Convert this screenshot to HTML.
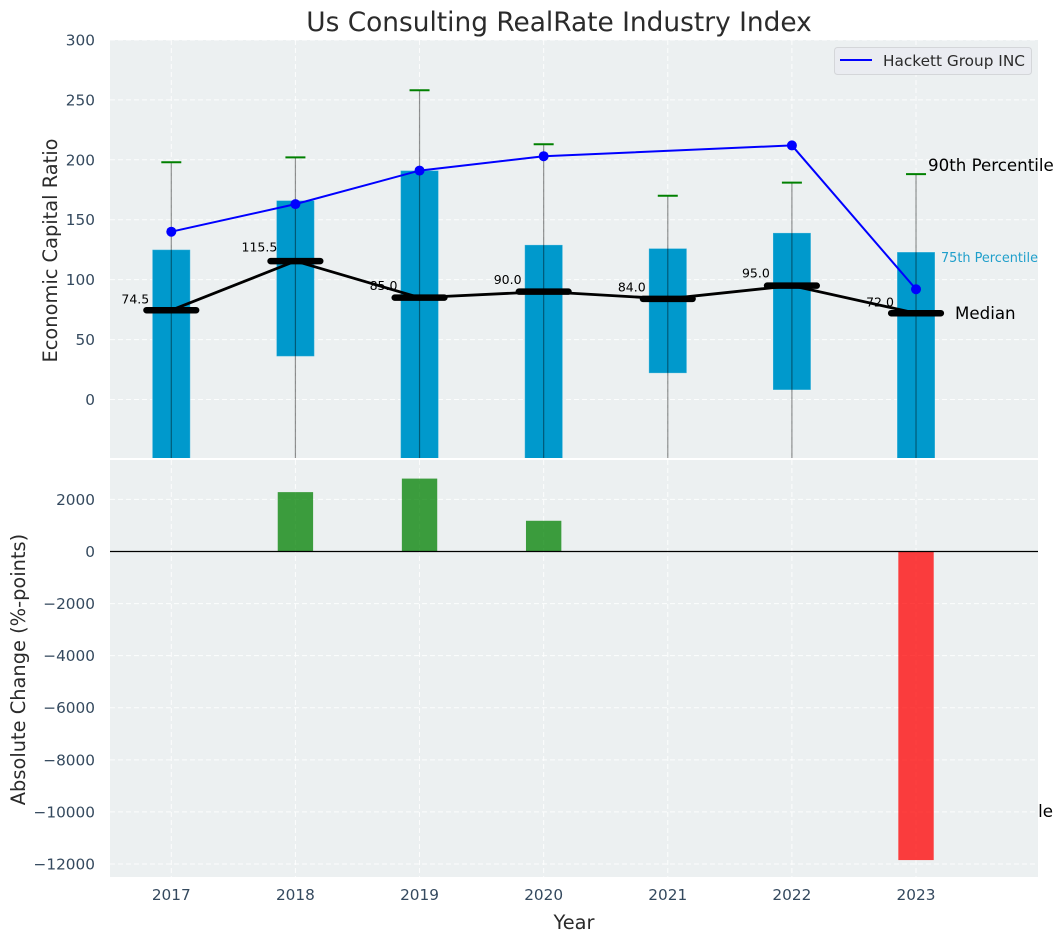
<!DOCTYPE html>
<html lang="en">
<head>
<meta charset="utf-8">
<title>Us Consulting RealRate Industry Index</title>
<style>
html,body{margin:0;padding:0;background:#fff;width:1063px;height:942px;overflow:hidden}
svg{display:block}
text{font-family:"DejaVu Sans","Liberation Sans",sans-serif}
</style>
</head>
<body>
<svg id="chart" xmlns="http://www.w3.org/2000/svg" width="1063" height="942" viewBox="0 0 1063 942">
  <defs>
    <clipPath id="clip-top"><rect x="110" y="40" width="928" height="418"/></clipPath>
    <clipPath id="clip-bottom"><rect x="110" y="460" width="928" height="417"/></clipPath>
  </defs>
  <text x="559" y="31" font-size="26.4" fill="#2b2b2b" text-anchor="middle">Us Consulting RealRate Industry Index</text>
  <text x="1053" y="817" font-size="16.67" fill="#000" text-anchor="end">10th Percentile</text>
  <rect x="110" y="40" width="928" height="418" fill="#ecf0f1"/>
  <rect x="110" y="460" width="928" height="417" fill="#ecf0f1"/>
  <g id="grid"></g>
  <g id="top-marks" clip-path="url(#clip-top)"></g>
  <g id="bottom-marks" clip-path="url(#clip-bottom)"></g>
  <g id="labels"></g>
  <g id="ticks"></g>
  <text transform="translate(57,250.5) rotate(-90)" font-size="19.4" fill="#2b2b2b" text-anchor="middle">Economic Capital Ratio</text>
  <text transform="translate(25,669.5) rotate(-90)" font-size="19.4" fill="#2b2b2b" text-anchor="middle">Absolute Change (%-points)</text>
  <text x="574" y="929" font-size="19.4" fill="#2b2b2b" text-anchor="middle">Year</text>
  <text x="928" y="171" font-size="16.67" fill="#000">90th Percentile</text>
  <text x="941" y="262" font-size="12.85" fill="#1f9fcb">75th Percentile</text>
  <text x="955" y="319" font-size="16.67" fill="#000">Median</text>
  <g>
    <rect x="834.5" y="47.5" width="197" height="27" rx="3" fill="#eaecf1" stroke="#d4d6d9" stroke-width="1"/>
    <line x1="840" y1="60" x2="872" y2="60" stroke="#0000ff" stroke-width="2"/>
    <text x="883" y="66" font-size="15.3" fill="#2b2b2b">Hackett Group INC</text>
  </g>
</svg>
<script>
const years = [2017, 2018, 2019, 2020, 2021, 2022, 2023];
const p90 = [198, 202, 258, 213, 170, 181, 188];
const p75 = [125, 166, 191, 129, 126, 139, 123];
const p25 = [-80, 36, -70, -60, 22, 8, -90];
const p10 = [-150, -120, -160, -140, -100, -110, -180];
const medians = [74.5, 115.5, 85.0, 90.0, 84.0, 95.0, 72.0];
const hackett = [140, 163, 191, 203, null, 212, 92];
const deltas = [null, 2280, 2800, 1180, null, null, -11850];
const topTicks = [0, 50, 100, 150, 200, 250, 300];
const bottomTicks = [2000, 0, -2000, -4000, -6000, -8000, -10000, -12000];

const NS = 'http://www.w3.org/2000/svg';
const xPos = function (v) { return 171.3 + (v - 2017) * 124.12; };
const xLen = function (d) { return d * 124.12; };
const yTop = function (v) { return 399.5 - v * 1.1985; };
const yBottom = function (v) { return 551.5 - v * 0.02604; };

function make(tag, parent, props) {
  const el = document.createElementNS(NS, tag);
  for (const k in props) el.setAttribute(k, props[k]);
  parent.appendChild(el);
  return el;
}

const grid = document.getElementById('grid');
const topMarks = document.getElementById('top-marks');
const bottomMarks = document.getElementById('bottom-marks');
const labels = document.getElementById('labels');
const ticks = document.getElementById('ticks');
const gridStyle = { stroke: '#ffffff', 'stroke-width': 1, 'stroke-dasharray': '5 3', 'stroke-opacity': 0.85 };

years.forEach(function (year) {
  const x = xPos(year);
  [[40, 458], [460, 877]].forEach(function (span) {
    const g = make('line', grid, Object.assign({ x1: x, x2: x, y1: span[0], y2: span[1] }, gridStyle));
    
    
  });
  const t = make('text', ticks, { x: x, y: 900, 'font-size': 15.3, fill: '#34495e', 'text-anchor': 'middle' });
  t.textContent = year;
  
  
});

topTicks.forEach(function (v) {
  const y = yTop(v);
  const g = make('line', grid, Object.assign({ x1: 110, x2: 1038, y1: y, y2: y }, gridStyle));
  
  
  const t = make('text', ticks, { x: 95, y: y + 5.5, 'font-size': 15.3, fill: '#34495e', 'text-anchor': 'end' });
  t.textContent = v;
  
  
});

bottomTicks.forEach(function (v) {
  const y = yBottom(v);
  const g = make('line', grid, Object.assign({ x1: 110, x2: 1038, y1: y, y2: y }, gridStyle));
  
  
  const t = make('text', ticks, { x: 95, y: y + 5.5, 'font-size': 15.3, fill: '#34495e', 'text-anchor': 'end' });
  t.textContent = String(v).replace('-', '\u2212');
  
  
});

years.forEach(function (year, i) {
  const x = xPos(year);
  const w = xLen(0.305);
  const bar = make('rect', topMarks, { x: x - w / 2, y: yTop(p75[i]), width: w, height: yTop(p25[i]) - yTop(p75[i]), fill: '#0099cc', stroke: '#ffffff', 'stroke-opacity': 0.25, 'stroke-width': 1 });
  
  
});

years.forEach(function (year, i) {
  const x = xPos(year);
  const whisker = make('line', topMarks, { x1: x, x2: x, y1: yTop(p90[i]), y2: yTop(p10[i]), stroke: '#000000', 'stroke-opacity': 0.42, 'stroke-width': 1.2 });
  
  
  const cap = make('line', topMarks, { x1: x - 10, x2: x + 10, y1: yTop(p90[i]), y2: yTop(p90[i]), stroke: '#008000', 'stroke-width': 2 });
  
  
});

const medianPath = make('polyline', topMarks, {
  points: years.map(function (year, i) { return xPos(year) + ',' + yTop(medians[i]); }).join(' '),
  fill: 'none', stroke: '#000000', 'stroke-width': 2.8
});



years.forEach(function (year, i) {
  const x = xPos(year);
  const y = yTop(medians[i]);
  const half = xLen(0.2);
  const m = make('line', topMarks, { x1: x - half, x2: x + half, y1: y, y2: y, stroke: '#000000', 'stroke-width': 6.5, 'stroke-linecap': 'round' });
  
  
  const t = make('text', labels, { x: x - 36, y: y - 6.5 - (medians[i] - 72) * 0.069, 'font-size': 12.5, fill: '#000000', 'text-anchor': 'middle' });
  t.textContent = medians[i].toFixed(1);
  
  
});

const hackettPts = [];
years.forEach(function (year, i) {
  if (hackett[i] !== null) hackettPts.push(xPos(year) + ',' + yTop(hackett[i]));
});
const hackettLine = make('polyline', topMarks, { points: hackettPts.join(' '), fill: 'none', stroke: '#0000ff', 'stroke-width': 2 });



years.forEach(function (year, i) {
  if (hackett[i] === null) return;
  const dot = make('circle', topMarks, { cx: xPos(year), cy: yTop(hackett[i]), r: 5, fill: '#0000ff' });
  
  
});

years.forEach(function (year, i) {
  if (deltas[i] === null) return;
  const x = xPos(year);
  const w = xLen(0.285);
  const y0 = yBottom(0);
  const y1 = yBottom(deltas[i]);
  const bar = make('rect', bottomMarks, { x: x - w / 2, y: Math.min(y0, y1), width: w, height: Math.abs(y1 - y0), fill: deltas[i] >= 0 ? '#008000' : '#ff0000', 'fill-opacity': 0.75 });
  
  
});

const zero = make('line', bottomMarks, { x1: 110, x2: 1038, y1: yBottom(0), y2: yBottom(0), stroke: '#000000', 'stroke-width': 1.3 });


</script>
</body>
</html>
